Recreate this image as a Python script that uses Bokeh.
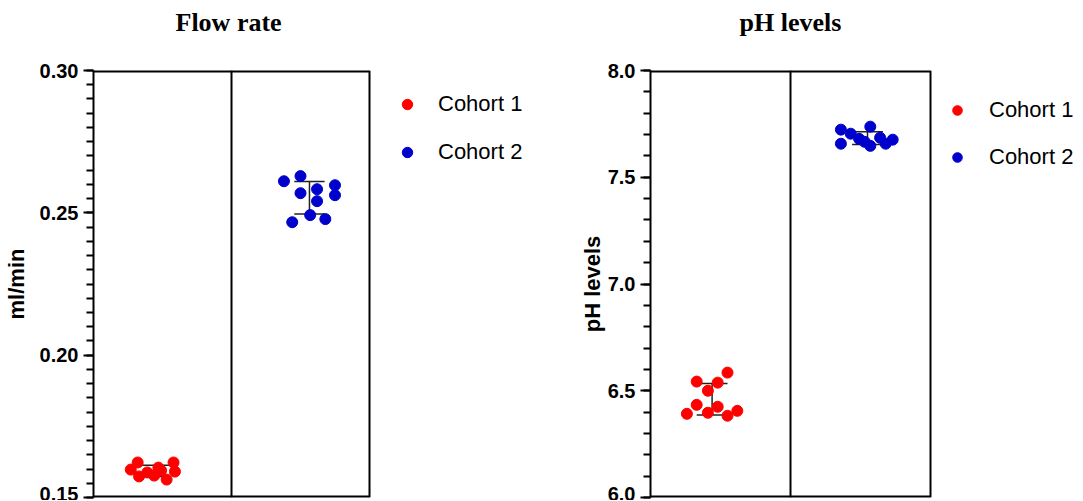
import numpy as np
from bokeh.plotting import figure
from bokeh.layouts import row
from bokeh.models import (Range1d, FixedTicker, NumeralTickFormatter, Span,
                          Legend, LegendItem, ColumnDataSource)
from bokeh.embed import file_html
from bokeh.resources import INLINE

# ---------------- data ----------------
cohorts = ["Cohort 1", "Cohort 2"]
colors = ["#ff0000", "#0000cc"]

# Flow rate (ml/min)
flow_c1 = [0.1598, 0.1623, 0.1574, 0.1588, 0.1577, 0.1595, 0.1563, 0.1623, 0.1591, 0.1605]
flow_c1_x = [0.27, 0.32, 0.33, 0.39, 0.44, 0.49, 0.53, 0.58, 0.59, 0.47]
flow_c2 = [0.2611, 0.2629, 0.2569, 0.2583, 0.2541, 0.2597, 0.2562, 0.2492, 0.2467, 0.2478]
flow_c2_x = [1.38, 1.50, 1.50, 1.62, 1.62, 1.75, 1.75, 1.57, 1.44, 1.68]
flow_centers = [0.44, 1.565]
flow_ticks = [0.15, 0.20, 0.25, 0.30]
flow_minor_step = 0.005

# pH levels
ph_c1 = [6.392, 6.434, 6.543, 6.500, 6.397, 6.538, 6.425, 6.585, 6.383, 6.406]
ph_c1_x = [0.26, 0.33, 0.33, 0.41, 0.41, 0.48, 0.48, 0.55, 0.55, 0.62]
ph_c2 = [7.723, 7.657, 7.704, 7.680, 7.666, 7.737, 7.647, 7.685, 7.657, 7.676]
ph_c2_x = [1.36, 1.36, 1.43, 1.49, 1.53, 1.57, 1.57, 1.64, 1.68, 1.73]
ph_centers = [0.44, 1.55]
ph_ticks = [6.0, 6.5, 7.0, 7.5, 8.0]
ph_minor_step = 0.1

SANS = "Liberation Sans"
SERIF = "Liberation Serif"
N_GROUPS = 2


def panel(title, ylabel, ticks, minor_step, fmt, series, xs, centers,
          box_w, frame_w, b_left, title_offset, label_standoff,
          leg_loc, leg_gw, leg_gh, leg_spacing, leg_standoff):
    yr = (ticks[0], ticks[-1])
    x_end = frame_w / (box_w / N_GROUPS)   # box of the two groups keeps box_w pixels
    p = figure(title=title, frame_width=frame_w, frame_height=427,
               min_border_left=b_left, min_border_right=0,
               min_border_top=70, min_border_bottom=3,
               x_range=Range1d(0, x_end), y_range=Range1d(*yr),
               output_backend="svg", toolbar_location=None)
    p.title.text_font = SERIF
    p.title.text_font_style = "bold"
    p.title.text_font_size = "26px"
    p.title.align = "left"
    p.title.offset = title_offset
    p.title.vertical_align = "top"
    p.title.standoff = 0
    p.title.padding = dict(left=0, right=0, top=4, bottom=32)
    p.title.text_color = "black"

    p.xaxis.visible = False
    p.grid.visible = False
    p.outline_line_color = None

    n_minor = int(round((yr[1] - yr[0]) / minor_step))
    minor = [round(yr[0] + i * minor_step, 4) for i in range(n_minor + 1)]

    ax = p.yaxis[0]
    ax.ticker = FixedTicker(ticks=ticks, minor_ticks=minor)
    ax.formatter = NumeralTickFormatter(format=fmt)
    ax.axis_label = ylabel
    ax.axis_label_text_font = SANS
    ax.axis_label_text_font_style = "bold"
    ax.axis_label_text_font_size = "22px"
    ax.axis_label_text_color = "black"
    ax.axis_label_standoff = label_standoff
    ax.major_label_text_font = SANS
    ax.major_label_text_font_style = "bold"
    ax.major_label_text_font_size = "20px"
    ax.major_label_text_color = "black"
    ax.major_label_standoff = 5
    ax.axis_line_width = 2
    ax.axis_line_color = "black"
    ax.major_tick_line_width = 2
    ax.minor_tick_line_width = 2
    ax.major_tick_line_color = "black"
    ax.minor_tick_line_color = "black"
    ax.major_tick_out = 10
    ax.major_tick_in = 0
    ax.minor_tick_out = 7
    ax.minor_tick_in = 0

    # box around the two groups: group dividers + top / bottom edges
    for loc in range(1, N_GROUPS + 1):
        p.add_layout(Span(location=loc, dimension="height", line_color="black", line_width=2))
    p.segment(x0=[0, 0], y0=[yr[0], yr[1]], x1=[N_GROUPS, N_GROUPS], y1=[yr[0], yr[1]],
              line_color="black", line_width=4)

    renderers = []
    for vals, xv, cx, col in zip(series, xs, centers, colors):
        v = np.array(vals)
        m, sd = v.mean(), v.std(ddof=1)
        p.segment(x0=[cx], y0=[m - sd], x1=[cx], y1=[m + sd], line_color="#222222", line_width=1.5)
        p.segment(x0=[cx - 0.11, cx - 0.11], y0=[m - sd, m + sd],
                  x1=[cx + 0.11, cx + 0.11], y1=[m - sd, m + sd],
                  line_color="#222222", line_width=1.5)
        src = ColumnDataSource(dict(x=xv, y=vals))
        r = p.scatter("x", "y", source=src, size=11, fill_color=col, line_color=col)
        renderers.append(r)

    legend = Legend(items=[LegendItem(label=c, renderers=[r]) for c, r in zip(cohorts, renderers)],
                    location=leg_loc, padding=0, margin=0,
                    glyph_width=leg_gw, glyph_height=leg_gh,
                    spacing=leg_spacing, label_standoff=leg_standoff,
                    label_text_font=SANS, label_text_font_size="22px",
                    label_text_color="black",
                    border_line_alpha=0, background_fill_alpha=0)
    p.add_layout(legend)
    return p


p1 = panel("Flow rate", "ml/min", flow_ticks, flow_minor_step, "0.00",
           [flow_c1, flow_c2], [flow_c1_x, flow_c2_x], flow_centers,
           276, 460, 93, 82, 8, (301, 332), 26, 26, 22, 18)

p2 = panel("pH levels", "pH levels", ph_ticks, ph_minor_step, "0.0",
           [ph_c1, ph_c2], [ph_c1_x, ph_c2_x], ph_centers,
           280, 428, 97, 89, 0, (295, 327), 24, 26, 21, 20)

layout = row(p1, p2)
open("out.html", "w").write(file_html(layout, INLINE))
